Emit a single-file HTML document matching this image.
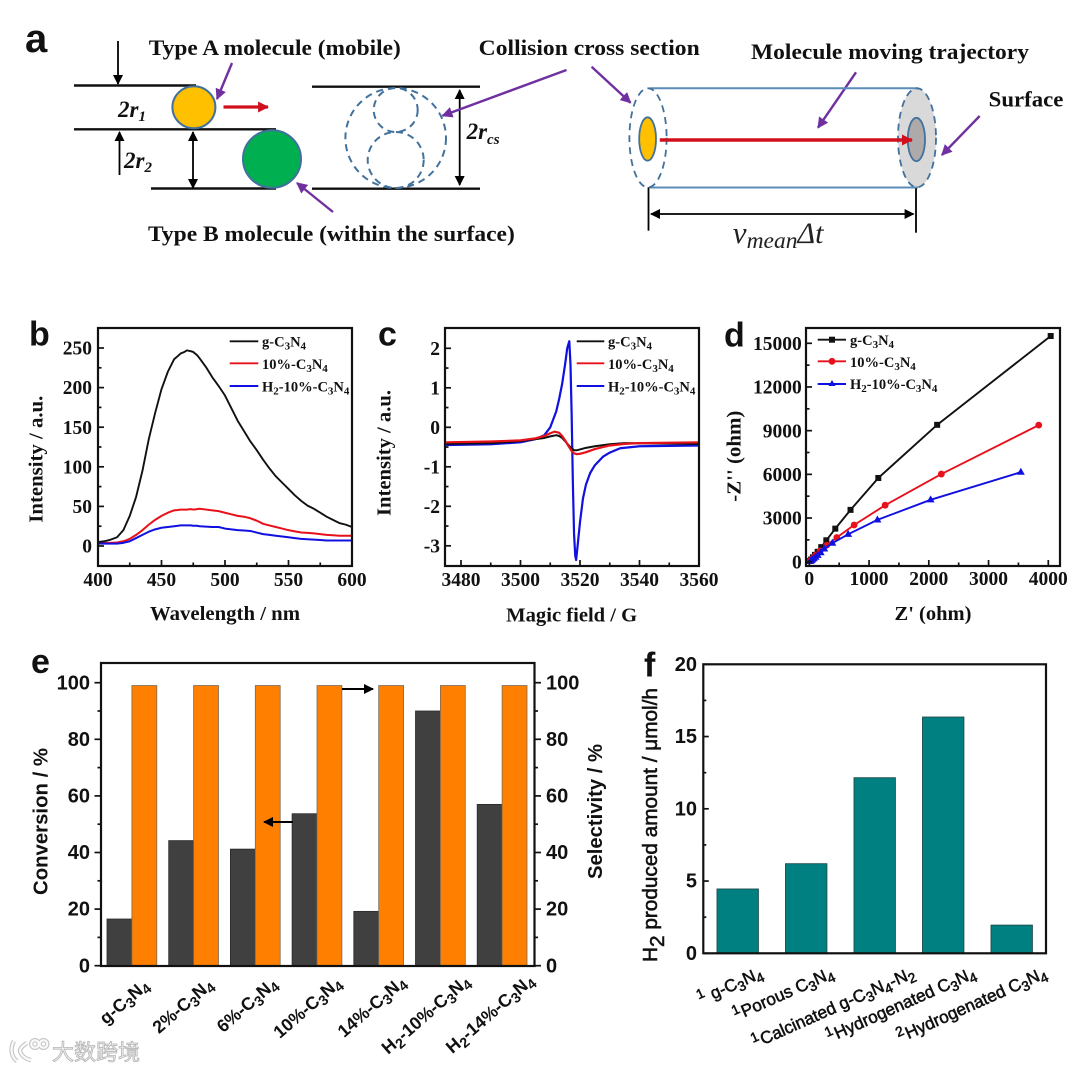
<!DOCTYPE html>
<html lang="en">
<head>
<meta charset="utf-8">
<title>g-C3N4 characterization figure</title>
<style>
html,body{margin:0;padding:0;background:#fff;width:1080px;height:1071px;overflow:hidden}
svg{display:block}
.serif{font-family:"Liberation Serif",serif;font-weight:bold;fill:#111}
.sans{font-family:"Liberation Sans",sans-serif;font-weight:bold;fill:#111}
.leg{font-size:14.5px}
.tick{font-size:19.5px}
.etick{font-size:20px}
</style>
</head>
<body>
<svg id="fig" xmlns="http://www.w3.org/2000/svg" width="1080" height="1071" viewBox="0 0 1080 1071">
<defs>
<marker id="blackHead" viewBox="0 0 10 10" refX="9" refY="5" markerWidth="10" markerHeight="10" markerUnits="userSpaceOnUse" orient="auto-start-reverse"><path d="M0 0L10 5L0 10Z" fill="#000"/></marker>
<marker id="purpleHead" viewBox="0 0 10 10" refX="9" refY="5" markerWidth="11" markerHeight="11" markerUnits="userSpaceOnUse" orient="auto"><path d="M0 0L10 5L0 10Z" fill="#7030a0"/></marker>
<marker id="redHead" viewBox="0 0 10 10" refX="9" refY="5" markerWidth="11" markerHeight="12" markerUnits="userSpaceOnUse" orient="auto"><path d="M0 0L10 5L0 10Z" fill="#d0101c"/></marker>
</defs>

<!-- Panel a -->
<g id="panel-a">
<text class="sans" x="25" y="52" font-size="40">a</text>
<g stroke="#111" stroke-width="2.4">
<line x1="74" y1="85.5" x2="196" y2="85.5"/>
<line x1="74" y1="129.3" x2="276" y2="129.3"/>
<line x1="151" y1="188.5" x2="276" y2="188.5"/>
<line x1="312" y1="86.7" x2="480" y2="86.7"/>
<line x1="312" y1="188.7" x2="480" y2="188.7"/>
</g>
<g stroke="#000" stroke-width="1.8">
<line x1="118" y1="41" x2="118" y2="84" marker-end="url(#blackHead)"/>
<line x1="119.5" y1="175" x2="119.5" y2="132" marker-end="url(#blackHead)"/>
<line x1="193" y1="132" x2="193" y2="188" marker-start="url(#blackHead)" marker-end="url(#blackHead)"/>
<line x1="459.7" y1="90" x2="459.7" y2="185" marker-start="url(#blackHead)" marker-end="url(#blackHead)"/>
<line x1="651" y1="214" x2="913.6" y2="214" marker-start="url(#blackHead)" marker-end="url(#blackHead)"/>
</g>
<ellipse cx="193.9" cy="107.3" rx="21.5" ry="21" fill="#ffc000" stroke="#41719c" stroke-width="2"/>
<ellipse cx="272" cy="159" rx="29" ry="28.8" fill="#00b050" stroke="#41719c" stroke-width="2"/>
<line x1="223.5" y1="107" x2="268" y2="107" stroke="#d0101c" stroke-width="3.2" marker-end="url(#redHead)"/>
<g fill="none" stroke="#41719c" stroke-width="2" stroke-dasharray="7 5">
<ellipse cx="395.7" cy="138" rx="50.3" ry="50"/>
<ellipse cx="395.7" cy="110" rx="22" ry="22"/>
<ellipse cx="395.7" cy="160" rx="28" ry="28"/>
</g>
<g stroke="#7030a0" stroke-width="2.4">
<line x1="232" y1="63" x2="217" y2="99" marker-end="url(#purpleHead)"/>
<line x1="333" y1="212" x2="297" y2="183" marker-end="url(#purpleHead)"/>
<line x1="566.5" y1="70" x2="442.5" y2="115.7" marker-end="url(#purpleHead)"/>
<line x1="591.6" y1="66.7" x2="630.6" y2="102.7" marker-end="url(#purpleHead)"/>
<line x1="856" y1="72.3" x2="818" y2="127.7" marker-end="url(#purpleHead)"/>
<line x1="979.7" y1="116" x2="941.9" y2="155" marker-end="url(#purpleHead)"/>
</g>
<text class="serif" x="148.8" y="55" font-size="22.5" textLength="252" lengthAdjust="spacingAndGlyphs">Type A molecule (mobile)</text>
<text class="serif" x="478.7" y="55" font-size="22.5" textLength="221" lengthAdjust="spacingAndGlyphs">Collision cross section</text>
<text class="serif" x="751" y="59" font-size="22.5" textLength="278" lengthAdjust="spacingAndGlyphs">Molecule moving trajectory</text>
<text class="serif" x="988.7" y="106.7" font-size="22.5" textLength="74.7" lengthAdjust="spacingAndGlyphs">Surface</text>
<text class="serif" x="148" y="241" font-size="22.5" textLength="366.8" lengthAdjust="spacingAndGlyphs">Type B molecule (within the surface)</text>
<text class="serif" x="118" y="117" font-size="23" font-style="italic">2r<tspan dy="4" font-size="15">1</tspan></text>
<text class="serif" x="124" y="168" font-size="23" font-style="italic">2r<tspan dy="4" font-size="15">2</tspan></text>
<text class="serif" x="466.6" y="139" font-size="23" font-style="italic">2r<tspan dy="5" font-size="15">cs</tspan></text>
<g>
<ellipse cx="917" cy="137.8" rx="19" ry="49.5" fill="#d9d9d9"/>
<line x1="650" y1="88.3" x2="918" y2="88.3" stroke="#5b8db8" stroke-width="2"/>
<line x1="650" y1="187.5" x2="918" y2="187.5" stroke="#5b8db8" stroke-width="2"/>
<ellipse cx="648" cy="137.8" rx="18.6" ry="49.5" fill="none" stroke="#41719c" stroke-width="1.8" stroke-dasharray="7 5"/>
<ellipse cx="917" cy="137.8" rx="19" ry="49.5" fill="none" stroke="#41719c" stroke-width="1.8" stroke-dasharray="7 5"/>
<ellipse cx="647.6" cy="139" rx="8.4" ry="21.7" fill="#ffc000" stroke="#41719c" stroke-width="1.8"/>
<ellipse cx="916.4" cy="139.5" rx="8.6" ry="21.7" fill="#aeaaaa" stroke="#41719c" stroke-width="1.8"/>
<line x1="659.8" y1="140" x2="911.9" y2="140" stroke="#d0101c" stroke-width="3.5" marker-end="url(#redHead)"/>
<line x1="648.5" y1="187.3" x2="648.5" y2="230.7" stroke="#000" stroke-width="1.8"/>
<line x1="916" y1="188.3" x2="916" y2="232.7" stroke="#000" stroke-width="1.8"/>
</g>
<text x="732.8" y="243" font-family="'Liberation Serif',serif" font-style="italic" font-size="31" fill="#222">v<tspan dy="5" font-size="23.5">mean</tspan><tspan dy="-5" font-size="30">Δt</tspan></text>
</g>

<!-- Panel b static -->
<g id="panel-b">
<text class="sans" x="29" y="345.7" font-size="34">b</text>
<g id="bMarks"></g>
<rect x="98" y="328" width="254" height="238" fill="none" stroke="#111" stroke-width="2.2"/>
<g id="bTicks"></g>
<text class="serif" x="225" y="620" text-anchor="middle" font-size="20" textLength="150" lengthAdjust="spacingAndGlyphs">Wavelength / nm</text>
<text class="serif" transform="translate(42.7 522.7) rotate(-90)" font-size="20" textLength="127" lengthAdjust="spacingAndGlyphs">Intensity / a.u.</text>
<g>
<line x1="229.7" y1="341.3" x2="258.3" y2="341.3" stroke="#111" stroke-width="1.9"/>
<text class="serif leg" x="262" y="346.5">g-C<tspan dy="3" font-size="11">3</tspan><tspan dy="-3">N</tspan><tspan dy="3" font-size="11">4</tspan></text>
<line x1="229.7" y1="363.3" x2="258.3" y2="363.3" stroke="#e8101a" stroke-width="1.9"/>
<text class="serif leg" x="262" y="369">10%-C<tspan dy="3" font-size="11">3</tspan><tspan dy="-3">N</tspan><tspan dy="3" font-size="11">4</tspan></text>
<line x1="229.7" y1="386" x2="258.3" y2="386" stroke="#1010e0" stroke-width="1.9"/>
<text class="serif leg" x="262" y="391.5">H<tspan dy="3" font-size="11">2</tspan><tspan dy="-3">-10%-C</tspan><tspan dy="3" font-size="11">3</tspan><tspan dy="-3">N</tspan><tspan dy="3" font-size="11">4</tspan></text>
</g>
</g>

<!-- Panel c static -->
<g id="panel-c">
<text class="sans" x="378" y="345.7" font-size="34">c</text>
<g id="cMarks"></g>
<rect x="445" y="328" width="254" height="238" fill="none" stroke="#111" stroke-width="2.2"/>
<g id="cTicks"></g>
<text class="serif" x="571.7" y="621.7" text-anchor="middle" font-size="20" textLength="131" lengthAdjust="spacingAndGlyphs">Magic field / G</text>
<text class="serif" transform="translate(390.7 516) rotate(-90)" font-size="20" textLength="126" lengthAdjust="spacingAndGlyphs">Intensity / a.u.</text>
<g>
<line x1="576.7" y1="341.3" x2="604.3" y2="341.3" stroke="#111" stroke-width="1.9"/>
<text class="serif leg" x="608" y="346.5">g-C<tspan dy="3" font-size="11">3</tspan><tspan dy="-3">N</tspan><tspan dy="3" font-size="11">4</tspan></text>
<line x1="576.7" y1="363.3" x2="604.3" y2="363.3" stroke="#e8101a" stroke-width="1.9"/>
<text class="serif leg" x="608" y="369">10%-C<tspan dy="3" font-size="11">3</tspan><tspan dy="-3">N</tspan><tspan dy="3" font-size="11">4</tspan></text>
<line x1="576.7" y1="386" x2="604.3" y2="386" stroke="#1010e0" stroke-width="1.9"/>
<text class="serif leg" x="608" y="391.5">H<tspan dy="3" font-size="11">2</tspan><tspan dy="-3">-10%-C</tspan><tspan dy="3" font-size="11">3</tspan><tspan dy="-3">N</tspan><tspan dy="3" font-size="11">4</tspan></text>
</g>
</g>

<!-- Panel d static -->
<g id="panel-d">
<text class="sans" x="724" y="346.7" font-size="34">d</text>
<g id="dMarks"></g>
<rect x="806" y="328" width="254" height="238" fill="none" stroke="#111" stroke-width="2.2"/>
<g id="dTicks"></g>
<text class="serif" x="933" y="620" text-anchor="middle" font-size="20" textLength="77" lengthAdjust="spacingAndGlyphs">Z' (ohm)</text>
<text class="serif" transform="translate(740.7 501.7) rotate(-90)" font-size="20" textLength="91" lengthAdjust="spacingAndGlyphs">-Z'' (ohm)</text>
<g>
<line x1="817.7" y1="339.7" x2="846" y2="339.7" stroke="#111" stroke-width="1.9"/>
<rect x="829" y="336.7" width="6" height="6" fill="#111"/>
<text class="serif leg" x="850" y="345">g-C<tspan dy="3" font-size="11">3</tspan><tspan dy="-3">N</tspan><tspan dy="3" font-size="11">4</tspan></text>
<line x1="817.7" y1="361.3" x2="846" y2="361.3" stroke="#e8101a" stroke-width="1.9"/>
<circle cx="832" cy="361.3" r="3.4" fill="#e8101a"/>
<text class="serif leg" x="850" y="367">10%-C<tspan dy="3" font-size="11">3</tspan><tspan dy="-3">N</tspan><tspan dy="3" font-size="11">4</tspan></text>
<line x1="817.7" y1="384" x2="846" y2="384" stroke="#1010e0" stroke-width="1.9"/>
<path d="M832 380L835.5 386H828.5Z" fill="#1010e0"/>
<text class="serif leg" x="850" y="389">H<tspan dy="3" font-size="11">2</tspan><tspan dy="-3">-10%-C</tspan><tspan dy="3" font-size="11">3</tspan><tspan dy="-3">N</tspan><tspan dy="3" font-size="11">4</tspan></text>
</g>
</g>

<!-- Panel e static -->
<g id="panel-e">
<text class="sans" x="31" y="673" font-size="34">e</text>
<g id="eMarks"></g>
<rect x="101" y="663" width="433.5" height="303" fill="none" stroke="#111" stroke-width="2.2"/>
<g id="eTicks"></g>
<text class="sans" transform="translate(47.6 895) rotate(-90)" font-size="20.3" textLength="147" lengthAdjust="spacingAndGlyphs">Conversion / %</text>
<text class="sans" transform="translate(602 879) rotate(-90)" font-size="20.3" textLength="135" lengthAdjust="spacingAndGlyphs">Selectivity / %</text>
<line x1="342" y1="689" x2="373" y2="689" stroke="#000" stroke-width="2" marker-end="url(#blackHead)"/>
<line x1="293" y1="822" x2="264" y2="822" stroke="#000" stroke-width="2" marker-end="url(#blackHead)"/>
</g>

<!-- Panel f static -->
<g id="panel-f">
<text class="sans" x="644" y="676.7" font-size="34">f</text>
<g id="fMarks"></g>
<rect x="703.3" y="664.3" width="342.7" height="289" fill="none" stroke="#111" stroke-width="2.2"/>
<g id="fTicks"></g>
<text class="sans" transform="translate(657 962) rotate(-90)" font-size="20" stroke="#111" stroke-width="0.55" textLength="274" lengthAdjust="spacingAndGlyphs" style="font-weight:normal">H<tspan dy="7" font-size="20">2</tspan><tspan dy="-7"> produced amount / μmol/h</tspan></text>
</g>

<!-- Watermark -->
<g id="watermark">
<g fill="none">
<g stroke="#c4c4c4" stroke-width="4.4">
<path d="M14 1041C10 1048 11 1057 17 1061"/>
<path d="M27 1043C22 1046 20 1049 20 1051C21 1055 25 1059 31 1060"/>
<circle cx="35" cy="1044" r="3.8"/>
<circle cx="43.5" cy="1044" r="3.8"/>
</g>
<g stroke="#fafafa" stroke-width="2.2">
<path d="M14 1041C10 1048 11 1057 17 1061"/>
<path d="M27 1043C22 1046 20 1049 20 1051C21 1055 25 1059 31 1060"/>
<circle cx="35" cy="1044" r="3.8"/>
<circle cx="43.5" cy="1044" r="3.8"/>
</g>
</g>
<text x="52" y="1060" font-family="'Liberation Sans','Noto Sans CJK SC',sans-serif" font-size="22" fill="#f1f1f1" stroke="#b5b5b5" stroke-width="0.8">大数跨境</text>
</g>

<script>
/* ---- panel b data: photoluminescence ---- */
const bWavelengths = [400,405,410,415,420,425,430,435,440,445,450,455,460,463,465,468,470,473,475,478,480,485,490,495,500,505,510,515,520,525,530,535,540,545,550,555,560,565,570,575,580,585,590,595,600];
const bGC3N4 = [5,6,8,11,20,38,62,95,135,168,198,220,236,240,243,245,247,246,245,241,237,226,213,202,190,174,158,145,132,121,109,98,88,80,72,64,57,51,47,42,37,33,29,27,24];
const bTenPct = [4,4,4,4.5,6,9,14,20,27,33,38,42,45,45.5,46,46,46,46.5,46,46.5,47,46,45,44,42,40,38,37,35,32,28,26,24,22,20,18.5,17,16.5,16,15,14,13.5,13,13,13];
const bH2TenPct = [3,3,3,3,4,6,10,14,18,21,23,24,25,25.5,26,26,26,26,25.5,25.5,25,24.5,24,24,22,21,20,19.5,19,17,15,14,13,12,11,10,9,8.5,8,7.5,7,7,7,7,7];
const bXTicks = ['400','450','500','550','600'];
const bYTicks = ['0','50','100','150','200','250'];

/* ---- panel c data: EPR ---- */
const cFieldBlack = [3475,3490,3500,3505,3508,3510,3512,3513,3514,3515,3516,3517,3518,3519,3520,3522,3525,3530,3535,3560];
const cGC3N4 = [-0.42,-0.4,-0.35,-0.3,-0.27,-0.23,-0.2,-0.22,-0.27,-0.35,-0.44,-0.52,-0.58,-0.58,-0.56,-0.52,-0.48,-0.43,-0.4,-0.42];
const cFieldRed = [3475,3490,3500,3505,3508,3510,3511.5,3513,3514,3515,3516,3517,3518,3519,3520,3522,3525,3530,3535,3540,3560];
const cTenPct = [-0.38,-0.36,-0.33,-0.28,-0.22,-0.15,-0.11,-0.14,-0.22,-0.33,-0.46,-0.58,-0.66,-0.68,-0.67,-0.63,-0.55,-0.46,-0.42,-0.4,-0.38];
const cFieldBlue = [3475,3490,3500,3505,3508,3510,3511,3512,3513,3514,3515,3515.7,3516.4,3516.8,3517.2,3517.6,3518,3518.4,3518.7,3519.2,3520,3521,3522,3523.4,3525,3527.8,3530,3533.5,3540,3560];
const cH2TenPct = [-0.45,-0.43,-0.38,-0.3,-0.2,0,0.2,0.4,0.72,1.1,1.6,2,2.18,1.6,0.3,-1.4,-2.7,-3.25,-3.36,-3,-2.4,-1.8,-1.45,-1.16,-0.96,-0.74,-0.64,-0.53,-0.48,-0.46];
const cXTicks = ['3480','3500','3520','3540','3560'];
const cYTicks = ['-3','-2','-1','0','1','2'];

/* ---- panel d data: Nyquist ---- */
const dBlackZre = [4040,2140,1155,690,435,285,200,140,95,60,30,10];
const dBlackZim = [15500,9400,5750,3560,2270,1470,1000,680,470,300,150,50];
const dRedZre = [3840,2210,1270,750,460,290,180,110,70,40,15];
const dRedZim = [9380,6020,3880,2520,1660,1130,740,450,280,150,60];
const dBlueZre = [3540,2030,1140,650,385,250,190,140,105,75,50,30,15];
const dBlueZim = [6150,4250,2870,1880,1270,880,620,440,310,210,130,70,30];
const dXTicks = ['0','1000','2000','3000','4000'];
const dYTicks = ['0','3000','6000','9000','12000','15000'];

/* ---- panel e data ---- */
const eCategories = ['g-C_3N_4','2%-C_3N_4','6%-C_3N_4','10%-C_3N_4','14%-C_3N_4','H_2-10%-C_3N_4','H_2-14%-C_3N_4'];
const eConversion = [16.5,44.2,41.2,53.7,19.2,90,57];
const eSelectivity = [99,99,99,99,99,99,99];
const eYTicks = ['0','20','40','60','80','100'];

/* ---- panel f data ---- */
const fCategories = ['^1 g-C_3N_4','^1Porous C_3N_4','^1Calcinated g-C_3N_4-N_2','^1Hydrogenated C_3N_4','^2Hydrogenated C_3N_4'];
const fHydrogen = [4.45,6.2,12.15,16.35,1.95];
const fYTicks = ['0','5','10','15','20'];

const NS = 'http://www.w3.org/2000/svg';

/* axis functions */
const bX = v => 98 + (v - 400) * 254 / 200;
const bY = v => 546 - v * 198 / 250;
const cX = v => 461 + (v - 3480) * 238 / 80;
const cY = v => 427.3 - v * 39.5;
const dX = v => 809.3 + v * 59.75 / 1000;
const dY = v => 561.7 - v * 43.68 / 3000;
const eBand = i => 107 + i * 61.7;
const eBarW = 24.9;
const eY = v => 965.7 - v * 2.83;
const fBand = i => 717 + i * 68.5;
const fBarW = 41.4;
const fY = v => 953.3 - v * 14.45;

function make(tag, parent, props) {
  const el = document.createElementNS(NS, tag);
  for (const k in props) el.setAttribute(k, props[k]);
  parent.appendChild(el);
  return el;
}

function polyPoints(xs, ys, fx, fy) {
  return xs.map((x, i) => fx(x).toFixed(2) + ',' + fy(ys[i]).toFixed(2)).join(' ');
}

function addCurve(parent, xs, ys, fx, fy, color, width, label) {
  const el = make('polyline', parent, {points: polyPoints(xs, ys, fx, fy), fill: 'none', stroke: color, 'stroke-width': width, 'stroke-linejoin': 'round'});
  
  
  return el;
}

function addTickLine(parent, x1, y1, x2, y2) {
  const el = make('line', parent, {x1: x1, y1: y1, x2: x2, y2: y2, stroke: '#111', 'stroke-width': 1.7});
  
  
}

function addTickLabel(parent, x, y, anchor, cls, text) {
  const el = make('text', parent, {x: x, y: y, 'text-anchor': anchor, class: cls});
  el.textContent = text;
  
  
}

function midpoints(nums) {
  return nums.slice(1).map((n, i) => (n + nums[i]) / 2);
}

/* horizontal axis: inward ticks from baseline */
function xAxis(parent, labels, fx, baseY, labelY, cls) {
  const nums = labels.map(Number);
  nums.forEach((n, i) => {
    addTickLine(parent, fx(n), baseY, fx(n), baseY - 6);
    addTickLabel(parent, fx(n), labelY, 'middle', cls, labels[i]);
  });
  midpoints(nums).forEach(n => addTickLine(parent, fx(n), baseY, fx(n), baseY - 3.5));
}

/* vertical axis: dir -1 outward-left, +1 inward-right etc. */
function yAxis(parent, labels, fy, baseX, dir, labelX, anchor, cls, major, minor) {
  const nums = labels.map(Number);
  nums.forEach((n, i) => {
    addTickLine(parent, baseX, fy(n), baseX + dir * major, fy(n));
    if (labelX !== null) addTickLabel(parent, labelX, fy(n) + 6.6, anchor, cls, labels[i]);
  });
  midpoints(nums.slice().sort((a, b) => a - b)).forEach(n => addTickLine(parent, baseX, fy(n), baseX + dir * minor, fy(n)));
}

/* text with _sub and ^sup markup */
function richText(el, str, size) {
  const parts = str.match(/[_^].|[^_^]+/g);
  let shift = 0;
  let afterSup = false;
  parts.forEach(p => {
    const t = document.createElementNS(NS, 'tspan');
    if (p[0] === '_' || p[0] === '^') {
      const want = p[0] === '_' ? 4 : -6;
      t.setAttribute('dy', want - shift);
      shift = want;
      t.setAttribute('font-size', size * 0.8);
      t.textContent = p[1];
      afterSup = p[0] === '^';
    } else {
      t.setAttribute('dy', -shift);
      if (afterSup) t.setAttribute('dx', 1);
      afterSup = false;
      shift = 0;
      t.textContent = p;
    }
    el.appendChild(t);
  });
}

/* Panel b */
const bMarks = document.getElementById('bMarks');
addCurve(bMarks, bWavelengths, bTenPct, bX, bY, '#e8101a', 2, 'curve-10-c3n4');
addCurve(bMarks, bWavelengths, bH2TenPct, bX, bY, '#1010e0', 2, 'curve-h2-10-c3n4');
addCurve(bMarks, bWavelengths, bGC3N4, bX, bY, '#111', 1.9, 'curve-g-c3n4');
const bTicks = document.getElementById('bTicks');
xAxis(bTicks, bXTicks, bX, 566, 586, 'serif tick');
yAxis(bTicks, bYTicks, bY, 98, 1, 92, 'end', 'serif tick', 6, 3.5);

/* Panel c */
const cMarks = document.getElementById('cMarks');
addCurve(cMarks, cFieldBlue, cH2TenPct, cX, cY, '#1010e0', 2.2, 'curve-h2-10-c3n4');
addCurve(cMarks, cFieldBlack, cGC3N4, cX, cY, '#111', 2, 'curve-g-c3n4');
addCurve(cMarks, cFieldRed, cTenPct, cX, cY, '#e8101a', 2.2, 'curve-10-c3n4');
const cTicks = document.getElementById('cTicks');
xAxis(cTicks, cXTicks, cX, 566, 586, 'serif tick');
yAxis(cTicks, cYTicks, cY, 445, 1, 440, 'end', 'serif tick', 6, 3.5);

/* Panel d */
const dMarks = document.getElementById('dMarks');
addCurve(dMarks, dBlackZre, dBlackZim, dX, dY, '#111', 1.9, 'curve-g-c3n4');
dBlackZre.forEach((x, i) => {
  const el = make('rect', dMarks, {x: dX(x) - 3, y: dY(dBlackZim[i]) - 3, width: 6, height: 6, fill: '#111'});
  
  
});
addCurve(dMarks, dRedZre, dRedZim, dX, dY, '#e8101a', 1.9, 'curve-10-c3n4');
dRedZre.forEach((x, i) => {
  const el = make('circle', dMarks, {cx: dX(x), cy: dY(dRedZim[i]), r: 3.4, fill: '#e8101a'});
  
  
});
addCurve(dMarks, dBlueZre, dBlueZim, dX, dY, '#1010e0', 1.9, 'curve-h2-10-c3n4');
dBlueZre.forEach((x, i) => {
  const px = dX(x), py = dY(dBlueZim[i]);
  const el = make('path', dMarks, {d: 'M' + px + ' ' + (py - 4.4) + 'L' + (px + 4) + ' ' + (py + 2.6) + 'L' + (px - 4) + ' ' + (py + 2.6) + 'Z', fill: '#1010e0'});
  
  
});
const dTicks = document.getElementById('dTicks');
xAxis(dTicks, dXTicks, dX, 566, 585, 'serif tick');
yAxis(dTicks, dYTicks, dY, 806, 1, 801.7, 'end', 'serif tick', 6, 3.5);

/* Panel e */
const eMarks = document.getElementById('eMarks');
eCategories.forEach((cat, i) => {
  const conv = make('rect', eMarks, {x: eBand(i), y: eY(eConversion[i]), width: eBarW, height: eY(0) - eY(eConversion[i]), fill: '#404040', stroke: '#2a2a2a', 'stroke-width': 0.8});
  
  
  const sel = make('rect', eMarks, {x: eBand(i) + eBarW, y: eY(eSelectivity[i]), width: eBarW, height: eY(0) - eY(eSelectivity[i]), fill: '#ff8000', stroke: '#7a6a58', 'stroke-width': 0.8});
  
  
  const px = eBand(i) + 43 + i * 2.5, py = 987 - i * 0.8;
  const lab = make('text', eMarks, {transform: 'translate(' + px + ' ' + py + ') rotate(-41)', 'text-anchor': 'end', class: 'sans', 'font-size': 17.8});
  
  
  richText(lab, cat, 17.8);
});
const eTicks = document.getElementById('eTicks');
yAxis(eTicks, eYTicks, eY, 101, -1, 90, 'end', 'sans etick', 6.5, 3.5);
yAxis(eTicks, eYTicks, eY, 534.5, 1, 546, 'start', 'sans etick', 6.5, 3.5);

/* Panel f */
const fMarks = document.getElementById('fMarks');
fCategories.forEach((cat, i) => {
  const bar = make('rect', fMarks, {x: fBand(i), y: fY(fHydrogen[i]), width: fBarW, height: fY(0) - fY(fHydrogen[i]), fill: '#008080', stroke: '#1c4a4a', 'stroke-width': 0.9});
  
  
  const nudge = cat.includes('-N_') ? 10 : 0;
  const px = fBand(i) + 47 + i * 2.5 + nudge, py = 977;
  const lab = make('text', fMarks, {transform: 'translate(' + px + ' ' + py + ') rotate(-24)', 'text-anchor': 'end', 'font-family': "'Liberation Sans',sans-serif", 'font-size': 17.2, fill: '#111', stroke: '#111', 'stroke-width': 0.55});
  
  
  richText(lab, cat, 17.2);
});
const fTicks = document.getElementById('fTicks');
yAxis(fTicks, fYTicks, fY, 703.3, 1, 697, 'end', 'sans etick', 5.5, 3);
</script>
</svg>
</body>
</html>
